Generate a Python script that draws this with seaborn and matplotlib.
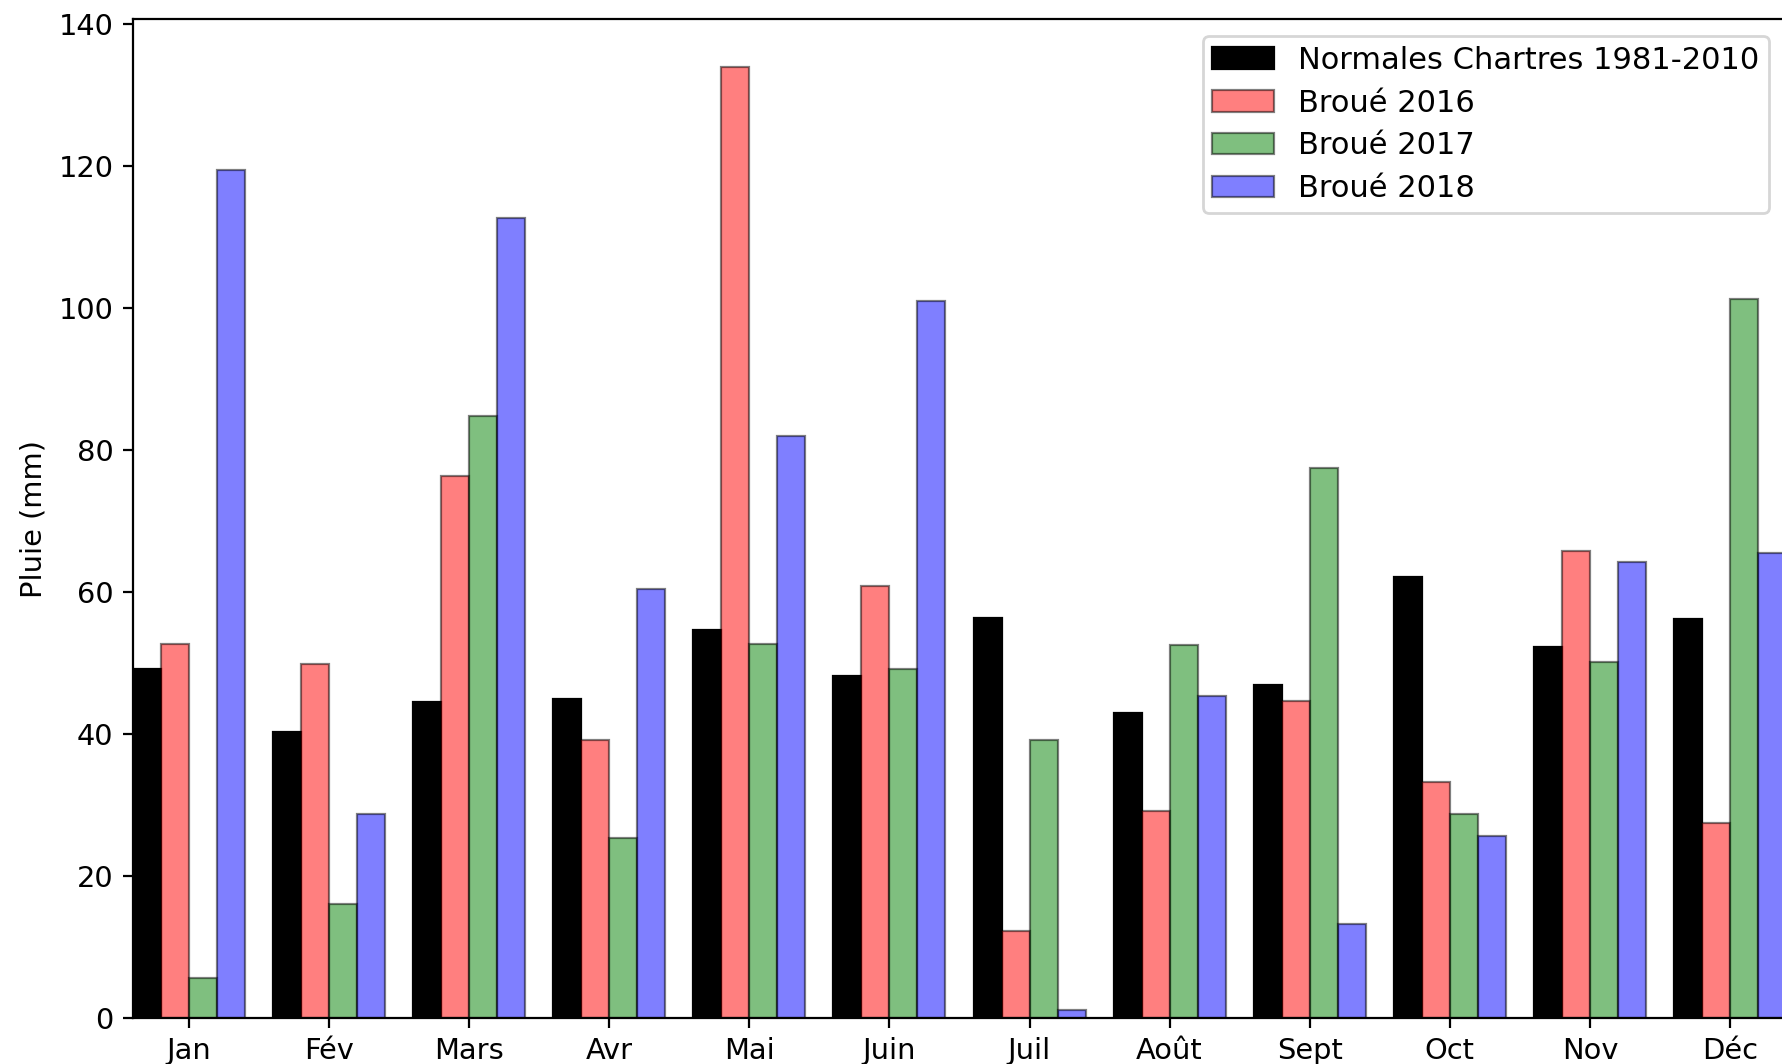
import numpy as np
import pandas as pd
import matplotlib
matplotlib.use("Agg")
import matplotlib.pyplot as plt
import seaborn as sns

mois        = ["Jan", "Fév", "Mars", "Avr", "Mai", "Juin", "Juil", "Août", "Sept", "Oct", "Nov", "Déc"]
normales    = [49.1, 40.3, 44.5, 45.0, 54.6, 48.2, 56.3, 42.9, 46.9, 62.1, 52.3, 56.2]
broue_2016  = [52.7, 49.9, 76.3, 39.2, 134.0, 60.8, 12.2, 29.1, 44.6, 33.2, 65.8, 27.5]
broue_2017  = [5.6, 16.1, 84.8, 25.4, 52.7, 49.1, 39.2, 52.5, 77.5, 28.7, 50.1, 101.3]
broue_2018  = [119.4, 28.7, 112.7, 60.5, 82.0, 101.0, 1.1, 45.3, 13.2, 25.7, 64.2, 65.5]
series      = ["Normales Chartres 1981-2010", "Broué 2016", "Broué 2017", "Broué 2018"]
couleurs    = [(0, 0, 0, 1.0), (1, 0, 0, 0.5), (0, 0.5, 0, 0.5), (0, 0, 1, 0.5)]

df = pd.DataFrame({
    "mois":  mois * 4,
    "serie": np.repeat(series, len(mois)),
    "pluie": normales + broue_2016 + broue_2017 + broue_2018,
})

plt.rcParams["font.family"] = ["DejaVu Sans"]
plt.rcParams["font.size"]   = 10.4

fig = plt.figure(figsize=(17.83 / 2, 10.64 / 2), dpi=200)
ax  = fig.add_axes([133 / 1783, 46 / 1064, 1653 / 1783, 998.7 / 1064])

sns.barplot(data=df, x="mois", y="pluie", hue="serie", order=mois, hue_order=series,
            palette=["black", "red", "green", "blue"], saturation=1, errorbar=None,
            width=0.8, legend=False, ax=ax)

# couleurs transparentes comme l'original
for cont, c in zip(ax.containers, couleurs):
    for p in cont:
        p.set_facecolor(c)
        p.set_edgecolor((0, 0, 0, 0.5) if c[3] < 1 else "black")
        p.set_linewidth(0.8)

ax.set_xlim(-0.4, 11.4)
ax.set_ylim(0, 134.0 * 1.05)
ax.set_yticks(range(0, 141, 20))
ax.set_xlabel("")
ax.set_ylabel("Pluie (mm)")

ax.legend(ax.containers, series, loc="upper right", fontsize=11.0, labelspacing=0.45,
          borderpad=0.32, bbox_to_anchor=(1769 / 1783, 1 - 36 / 1064),
          bbox_transform=fig.transFigure, borderaxespad=0)

fig.savefig("out.png", dpi=200)
